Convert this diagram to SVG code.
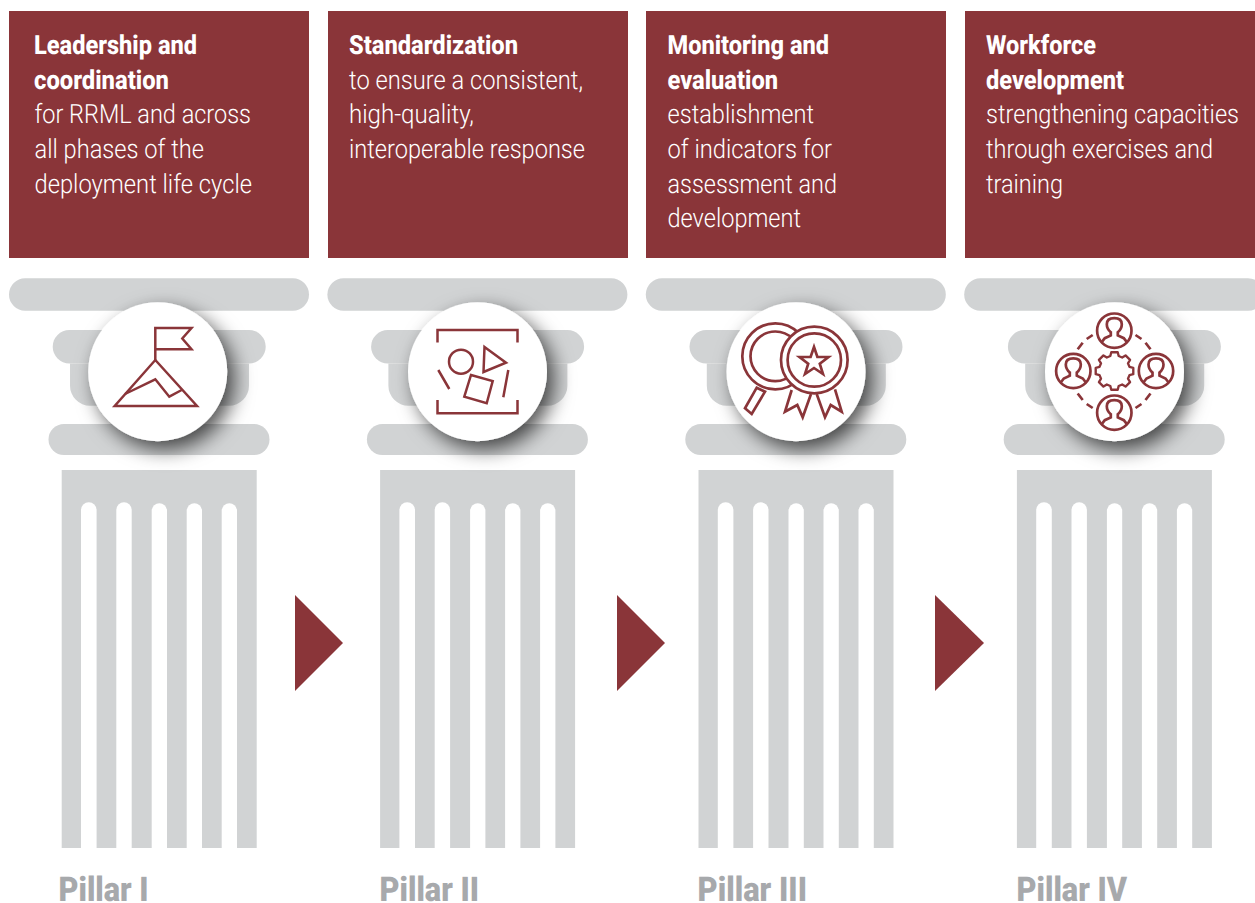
<svg xmlns="http://www.w3.org/2000/svg" width="1255" height="903" viewBox="0 0 1255 903">
<style>
.box{fill:#8a3539}
.g{fill:#d1d3d4}
.fl{fill:#fff}
.ico{fill:none;stroke:#8a3539;stroke-width:2.5;stroke-linejoin:miter}
.ico3{fill:none;stroke:#8a3539;stroke-width:2.7}
.med{fill:#fff;stroke:#8a3539;stroke-width:2.7}
text{font-family:"Roboto","Liberation Sans",sans-serif;text-rendering:geometricPrecision}
.t{fill:#fff;font-size:26.5px;font-weight:300}
.b{fill:#fff;font-size:26.5px;font-weight:800}
.l{fill:#a7a9ac;font-size:34px;font-weight:900}
.arr{fill:#8a3539}
</style>
<defs>
<filter id="sh" x="-30%" y="-30%" width="170%" height="170%"><feDropShadow dx="7" dy="8" stdDeviation="10" flood-color="#000" flood-opacity="0.68"/></filter>
<g id="col">
<rect class="g" x="9" y="278.3" width="300" height="32.4" rx="16.2"/>
<rect class="g" x="52.7" y="330" width="213" height="33.4" rx="16.7"/>
<path class="g" d="M70 363.4H249V385.7a20 20 0 0 1-20 20H90a20 20 0 0 1-20-20Z"/>
<rect class="g" x="48.5" y="424" width="221" height="31" rx="15.5"/>
<rect class="g" x="61.7" y="470" width="195" height="378"/>
<path class="fl" d="M81 848V510a7.8 7.8 0 0 1 15.6 0V848Z"/>
<path class="fl" d="M116.3 848V510a7.7 7.7 0 0 1 15.4 0V848Z"/>
<path class="fl" d="M151.7 848V510a7.7 7.7 0 0 1 15.3 0V848Z"/>
<path class="fl" d="M186.7 848V510a7.7 7.7 0 0 1 15.3 0V848Z"/>
<path class="fl" d="M221.7 848V510a7.7 7.7 0 0 1 15.3 0V848Z"/>
</g>
<g id="person">
<circle class="ico3" r="17.2"/>
<path class="ico3" d="M-13 12L-9.5 7.5L-3.5 4.7V1.5C-6.5 -1 -7.5 -4 -7.5 -6.5C-7.5 -10.5 -4.5 -12.6 0 -12.6C4.5 -12.6 7.5 -10.5 7.5 -6.5C7.5 -4 6.5 -1 3.5 1.5V4.7L9.5 7.5L13 12"/>
</g>
</defs>

<g id="connectors">
<polygon class="arr" points="295,595 343,643 295,691"/>
<polygon class="arr" points="617,595 665,643 617,691"/>
<polygon class="arr" points="935,595 984,643 935,691"/>
</g>

<g id="pillar-1">
<rect class="box" x="9" y="11" width="300" height="247"/>
<text class="b" x="34" y="54" textLength="163" lengthAdjust="spacingAndGlyphs">Leadership and</text>
<text class="b" x="34" y="89" textLength="135" lengthAdjust="spacingAndGlyphs">coordination</text>
<text class="t" x="34.5" y="123" textLength="216.5" lengthAdjust="spacingAndGlyphs">for RRML and across</text>
<text class="t" x="34.5" y="158.2" textLength="169.5" lengthAdjust="spacingAndGlyphs">all phases of the</text>
<text class="t" x="34.5" y="193" textLength="217.5" lengthAdjust="spacingAndGlyphs">deployment life cycle</text>
<use href="#col"/>
<circle cx="157.7" cy="371.7" r="69.5" fill="#fff" filter="url(#sh)"/>
<path class="ico" d="M155.3 360V328H191.5L182.3 338.5L191.5 349.3H155.3"/>
<path class="ico" d="M155.3 360L197 406H114.7Z"/>
<path class="ico" d="M125 394L155.3 379.3L169.3 396.7L181.7 390"/>
<text class="l" x="58.5" y="900.5" textLength="90" lengthAdjust="spacingAndGlyphs">Pillar I</text>
</g>

<g id="pillar-2">
<rect class="box" x="328" y="11" width="300" height="247"/>
<text class="b" x="349" y="54" textLength="169" lengthAdjust="spacingAndGlyphs">Standardization</text>
<text class="t" x="349" y="89" textLength="234" lengthAdjust="spacingAndGlyphs">to ensure a consistent,</text>
<text class="t" x="349" y="123" textLength="125" lengthAdjust="spacingAndGlyphs">high-quality,</text>
<text class="t" x="349" y="158.2" textLength="236" lengthAdjust="spacingAndGlyphs">interoperable response</text>
<use href="#col" x="318.4"/>
<circle cx="477.5" cy="371.7" r="69.5" fill="#fff" filter="url(#sh)"/>
<path class="ico" d="M437.5 342.5V330H517.5V342.5M437.5 400V413.3H517.5V400"/>
<circle class="ico" cx="461" cy="361.7" r="12"/>
<path class="ico" d="M484.5 347L506 362.7L483.5 372Z"/>
<path class="ico" d="M471 375L492.7 381L486.7 403.3L464.3 396.7Z"/>
<path class="ico" d="M438.3 370L449.3 389M508.3 370L503.3 397.3"/>
<text class="l" x="379.5" y="900.5" textLength="99.5" lengthAdjust="spacingAndGlyphs">Pillar II</text>
</g>

<g id="pillar-3">
<rect class="box" x="646" y="11" width="300" height="247"/>
<text class="b" x="667.5" y="54" textLength="161.5" lengthAdjust="spacingAndGlyphs">Monitoring and</text>
<text class="b" x="667.5" y="89" textLength="110.5" lengthAdjust="spacingAndGlyphs">evaluation</text>
<text class="t" x="667.5" y="123" textLength="146.5" lengthAdjust="spacingAndGlyphs">establishment</text>
<text class="t" x="667.5" y="158.2" textLength="164.5" lengthAdjust="spacingAndGlyphs">of indicators for</text>
<text class="t" x="667.5" y="193" textLength="169.5" lengthAdjust="spacingAndGlyphs">assessment and</text>
<text class="t" x="667.5" y="227" textLength="133.5" lengthAdjust="spacingAndGlyphs">development</text>
<use href="#col" x="636.8"/>
<circle cx="796" cy="371.7" r="69.5" fill="#fff" filter="url(#sh)"/>
<path class="ico3" d="M756.7 387.7L765 391.7L751.7 414L745 408.3Z"/>
<circle class="med" cx="775.3" cy="356.3" r="33"/>
<circle class="ico3" cx="775.3" cy="356.3" r="24.8"/>
<path class="ico3" d="M791.7 390L785 411.7L797.3 405L802.7 417.3L811 394"/>
<path class="ico3" d="M816.7 394L825 417.3L830.7 405L841.7 411.7L835 389.3"/>
<circle class="med" cx="814.3" cy="360" r="33.3"/>
<circle class="ico3" cx="814.3" cy="360" r="26.7"/>
<path class="ico3" d="M814 347L817.4 357H828.5L819.8 363.8L823 374L814 368L805 374L808.2 363.8L799.5 357H810.6Z"/>
<text class="l" x="697.5" y="900.5" textLength="109.5" lengthAdjust="spacingAndGlyphs">Pillar III</text>
</g>

<g id="pillar-4">
<rect class="box" x="965" y="11" width="290" height="247"/>
<text class="b" x="986" y="54" textLength="110" lengthAdjust="spacingAndGlyphs">Workforce</text>
<text class="b" x="986" y="89" textLength="138" lengthAdjust="spacingAndGlyphs">development</text>
<text class="t" x="986" y="123" textLength="253" lengthAdjust="spacingAndGlyphs">strengthening capacities</text>
<text class="t" x="986" y="158.2" textLength="227" lengthAdjust="spacingAndGlyphs">through exercises and</text>
<text class="t" x="986" y="193" textLength="77" lengthAdjust="spacingAndGlyphs">training</text>
<use href="#col" x="955.2"/>
<circle cx="1114.5" cy="371.7" r="69.5" fill="#fff" filter="url(#sh)"/>
<use href="#person" x="1114.3" y="330.7"/>
<use href="#person" x="1073.3" y="371"/>
<use href="#person" x="1156" y="371"/>
<use href="#person" x="1114.3" y="412.7"/>
<path class="ico3" d="M1077.7 349.3L1082.7 342.7M1086.7 339L1092.7 335M1150.5 349.3L1145.5 342.7M1141.5 339L1135.5 335M1077.7 393.5L1082.7 400M1086.7 404L1092.7 408M1150.5 393.5L1145.5 400M1141.5 404L1135.5 408"/>
<path class="ico3" stroke-linejoin="round" transform="translate(1114.5 371) scale(.87) translate(-1114.5 -374.9)" d="M1110.8 353.3H1118.2L1119.3 357.7L1123.3 359.4L1127.2 357L1132.4 362.2L1130 366.1L1131.7 370.1L1136.1 371.2V378.6L1131.7 379.7L1130 383.7L1132.4 387.6L1127.2 392.8L1123.3 390.4L1119.3 392.1L1118.2 396.5H1110.8L1109.7 392.1L1105.7 390.4L1101.8 392.8L1096.6 387.6L1099 383.7L1097.3 379.7L1092.9 378.6V371.2L1097.3 370.1L1099 366.1L1096.6 362.2L1101.8 357L1105.7 359.4L1109.7 357.7Z"/>
<text class="l" x="1016.5" y="900.5" textLength="110.5" lengthAdjust="spacingAndGlyphs">Pillar IV</text>
</g>
</svg>
